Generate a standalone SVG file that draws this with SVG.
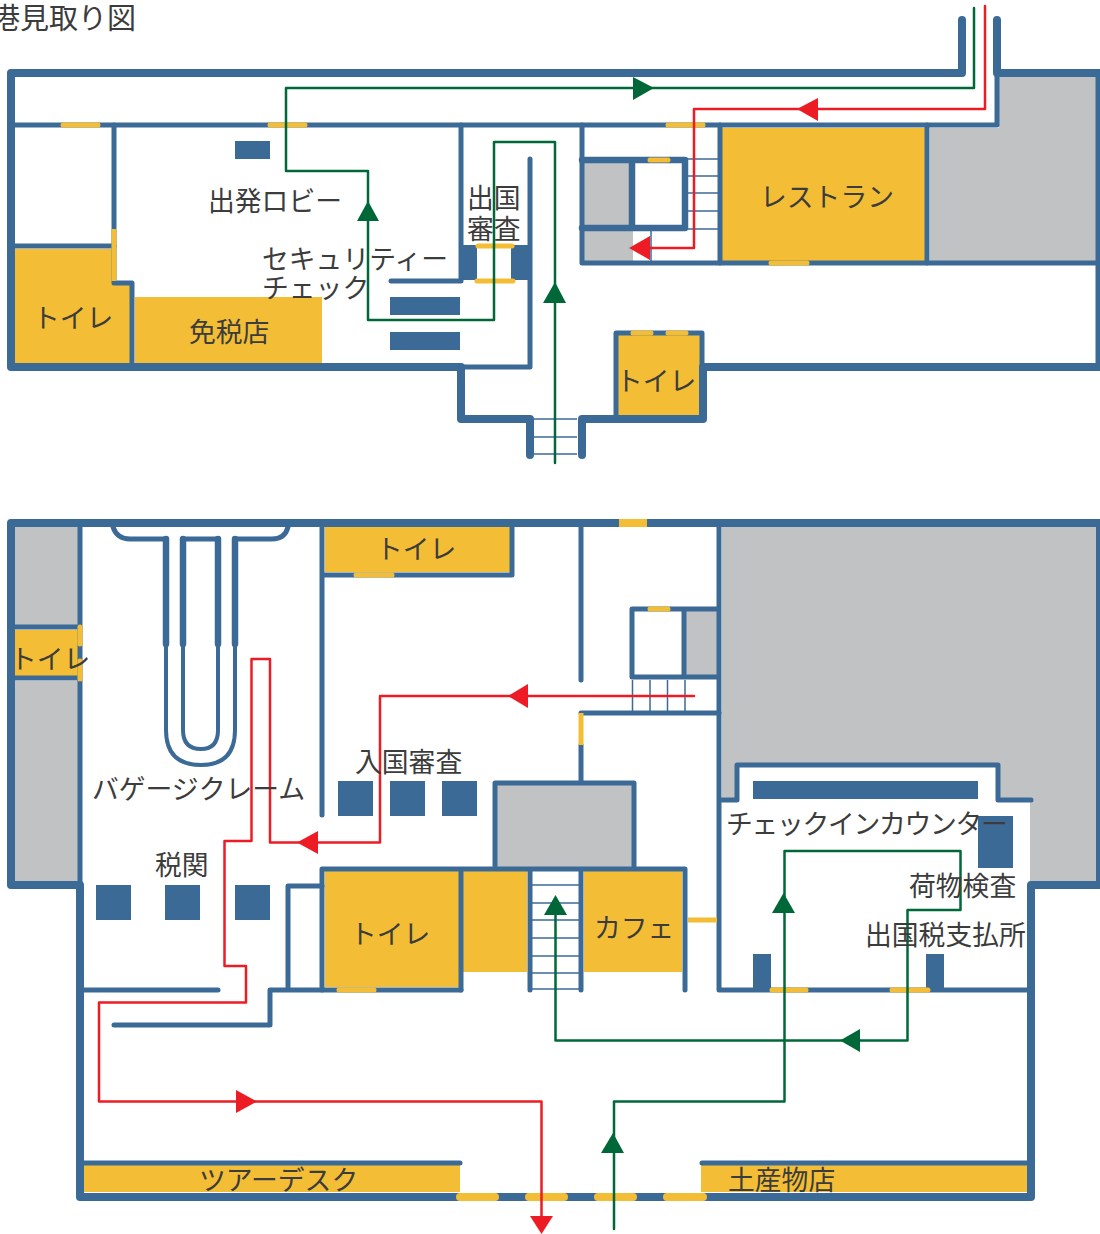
<svg xmlns="http://www.w3.org/2000/svg" width="1100" height="1234" viewBox="0 0 1100 1234">
<style>
.y{fill:#f3be36}.g{fill:#c1c2c4}.b{fill:#3c6a96}
.w8,.w5,.w4,.t,.d,.r,.n{fill:none;stroke-linecap:round;stroke-linejoin:round}
.w8{stroke:#3c6a96;stroke-width:8}.w5{stroke:#3c6a96;stroke-width:5}.w7{fill:none;stroke:#3c6a96;stroke-width:6.5;stroke-linecap:round;stroke-linejoin:round}.w4{stroke:#3c6a96;stroke-width:4}
.t{stroke:#3c6a96;stroke-width:1.5;stroke-linecap:butt}
.d{stroke:#f3be36;stroke-width:5}
.r{stroke:#ed1c24;stroke-width:2.5}.n{stroke:#006838;stroke-width:2.5}
.ra{fill:#ed1c24}.na{fill:#006838}
text{font-family:"Noto Sans CJK JP","Noto Sans",sans-serif;font-size:26.8px;font-weight:400;fill:#3c3c3c}
</style>
<rect width="1100" height="1234" fill="#fff"/>
<text x="-9" y="29" style="font-size:29px">港見取り図</text>

<g id="fills-upper">
<path class="y" d="M15 249H115V283H130V363H15Z"/>
<rect class="y" x="135" y="297" width="187" height="66"/>
<rect class="y" x="722" y="128" width="203" height="133"/>
<rect class="y" x="618" y="335" width="82" height="80"/>
<path class="g" d="M999 76H1097V261H930V128H999Z"/>
<rect class="g" x="584" y="162" width="46" height="63"/>
<rect class="g" x="584" y="231" width="49" height="30"/>
<rect class="b" x="235" y="141" width="35" height="18"/>
<rect class="b" x="390" y="297" width="70" height="18"/>
<rect class="b" x="390" y="332" width="70" height="18"/>
<rect class="b" x="463" y="245" width="14" height="35"/>
<rect class="b" x="511" y="245" width="18" height="35"/>
</g>
<g id="walls-upper">
<path class="w8" d="M962 20V73H11V367H461V419H530V455"/>
<path class="w8" d="M997 20V73H1100"/>
<path class="w8" d="M582 455V419H703V367H1100"/>
<path class="w5" d="M11 125H997V73"/>
<path class="w5" d="M114 125V283H132V367"/>
<path class="w5" d="M13 246H114"/>
<path class="w5" d="M461 125V281H391"/>
<path class="w5" d="M530 159V367H461"/>
<path class="w5" d="M582 125V263H1100"/>
<path class="w5" d="M720 125V263M927 125V263"/>
<path class="w5" d="M1098 73V367"/>
<path class="w7" d="M582 160H685V228H582M632 160V228"/>
<path class="w5" d="M616 418V333H702V367"/>
<path class="t" d="M651 231V262M687 159H718M687 176H718M687 193H718M687 211H718M687 229H718M534 419H577M534 437H577M534 454H577"/>
</g>
<g id="doors-upper">
<path class="d" d="M63 125H98M270 125H305M668 125H703M771 263H807M650 160H668M478 246H512M477 281H513M633 333H651M668 333H686"/>
<path class="d" d="M114 229V281" style="stroke-linecap:butt"/>
</g>

<g id="fills-lower">
<rect class="g" x="15" y="527" width="63" height="98"/>
<rect class="g" x="15" y="681" width="63" height="201"/>
<rect class="y" x="15" y="630" width="63" height="46"/>
<path class="g" d="M722 527H1096V882H1030V800H996V765H737V800H722Z"/>
<rect class="g" x="497" y="785" width="135" height="82"/>
<rect class="g" x="686" y="611" width="31" height="64"/>
<rect class="y" x="325" y="527" width="185" height="45"/>
<rect class="y" x="325" y="871" width="134" height="116"/>
<rect class="y" x="463" y="871" width="64" height="101"/>
<rect class="y" x="584" y="871" width="98" height="101"/>
<rect class="y" x="84" y="1165" width="376" height="27"/>
<rect class="y" x="701" y="1165" width="326" height="27"/>
<rect class="b" x="338" y="781" width="35" height="35"/>
<rect class="b" x="390" y="781" width="35" height="35"/>
<rect class="b" x="442" y="781" width="35" height="35"/>
<rect class="b" x="96" y="885" width="35" height="35"/>
<rect class="b" x="165" y="885" width="35" height="35"/>
<rect class="b" x="235" y="885" width="35" height="35"/>
<rect class="b" x="753" y="781" width="225" height="18"/>
<rect class="b" x="978" y="816" width="35" height="52"/>
<rect class="b" x="753" y="954" width="18" height="36"/>
<rect class="b" x="926" y="954" width="18" height="36"/>
</g>
<g id="walls-lower">
<path class="w8" d="M620 523H11V885H80V1197H1031V885H1100M648 523H1100"/>
<path class="w5" d="M80 527V885M15 627H78M15 678H78"/>
<path class="w5" d="M113 527Q117 539 130 539H166M235 539H272Q285 539 288 527"/>
<path class="w4" d="M166 644V730Q166 765 201 765Q235 765 235 730V644"/>
<path class="w4" d="M183 644V730Q183 749 201 749Q218 749 218 730V644"/>
<path class="w7" d="M166 539V644M235 539V644M183 539V644M218 539V644"/>
<path class="w5" d="M183 539H218"/>
<path class="w5" d="M322 527V815M322 575H512V527"/>
<path class="w5" d="M581 527V680M581 745V782M581 713H719"/>
<path class="w5" d="M719 527V990H1029"/>
<path class="w5" d="M495 866V783H634V866"/>
<path class="w5" d="M322 869H685V990M322 869V990M461 869V990M530 869V990M581 869V990"/>
<path class="w5" d="M82 990H218M114 1025H270V990H461M288 990V886H322"/>
<path class="w5" d="M82 1163H460M702 1163H1029"/>
<path class="w5" d="M632 677V609H717M684 609V677M632 677H717"/>
<path class="w5" d="M722 800H737V765H998V800H1031"/>
<path class="w4" d="M1098 523V885"/>
<path class="t" d="M632.500 680V711M650 680V711M667.500 680V711M685 680V711M532 885H579M532 903H579M532 920H579M532 938H579M532 956H579M532 973H579M532 989H579"/>
</g>
<g id="doors-lower">
<path class="d" d="M619 523H647" style="stroke-width:8;stroke-linecap:butt"/>
<path class="d" d="M80 627V644M80 661V679M356 575H392M650 609H668M339 990H374M772 990H806M892 990H928"/>
<path class="d" d="M581 713V745M688 920H717" style="stroke-linecap:butt"/>
<path class="d" d="M460 1197H495M529 1197H564M598 1197H633M667 1197H703" style="stroke-width:8"/>
</g>

<g id="connectors">
<path class="n" d="M974 8V88H286V171H368V320H494V142H555V463"/>
<path class="r" d="M985 6V109H694V248H640"/>
<path class="r" d="M694 696H380V842.500H270V659H251.500V841H224.500V966H246V1002.500H99V1101.500H541.500V1225"/>
<path class="n" d="M614 1229V1101.500H784.500V851H960.500V910H907.500V1040.500H555.500V905"/>
<polygon class="na" points="368,201 379,221 357,221"/>
<polygon class="na" points="654,88 633,77 633,100"/>
<polygon class="na" points="555,282 566,303 543,303"/>
<polygon class="ra" points="797,109 818,98 818,121"/>
<polygon class="ra" points="629,248 650,236 650,260"/>
<polygon class="ra" points="508,696 528,684 528,708"/>
<polygon class="ra" points="297,842.500 318,831 318,854"/>
<polygon class="ra" points="257,1101.500 236,1090 236,1113"/>
<polygon class="ra" points="541.500,1234 530,1216 553,1216"/>
<polygon class="na" points="555.500,895 567,915 544,915"/>
<polygon class="na" points="783.500,893 795,913 772,913"/>
<polygon class="na" points="840,1040.500 860,1029 860,1052"/>
<polygon class="na" points="613,1133 624,1153 601,1153"/>
</g>

<g id="labels">
<text x="208" y="211">出発ロビー</text>
<text x="262" y="269">セキュリティー</text>
<text x="262" y="298">チェック</text>
<text x="467" y="208">出国</text>
<text x="467" y="239">審査</text>
<text x="33" y="328">トイレ</text>
<text x="189" y="342">免税店</text>
<text x="616" y="391">トイレ</text>
<text x="760" y="207">レストラン</text>
<text x="376" y="559">トイレ</text>
<text x="10" y="669">トイレ</text>
<text x="92" y="799">バゲージクレーム</text>
<text x="355" y="772">入国審査</text>
<text x="155" y="875">税関</text>
<text x="350" y="944">トイレ</text>
<text x="594" y="938">カフェ</text>
<text x="726" y="834" style="letter-spacing:-1.300px">チェックインカウンター</text>
<text x="909" y="896">荷物検査</text>
<text x="865" y="945">出国税支払所</text>
<text x="199" y="1190">ツアーデスク</text>
<text x="728" y="1190">土産物店</text>
</g>
</svg>
